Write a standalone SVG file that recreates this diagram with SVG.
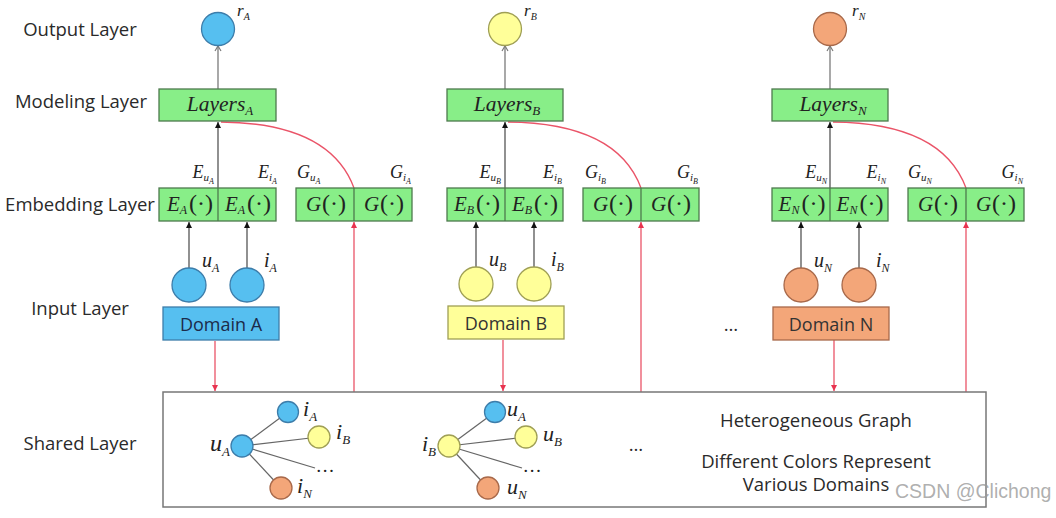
<svg xmlns="http://www.w3.org/2000/svg" width="1056" height="518" viewBox="0 0 1056 518">
<style>
.lbl{font-family:"Open Sans",sans-serif;font-size:18.5px;fill:#2a2a2a;text-anchor:middle}
.dom{font-family:"Open Sans",sans-serif;font-size:18px;text-anchor:middle}
.m{font-family:"Liberation Serif",serif;font-style:italic;fill:#222}
.cell{font-family:"Liberation Serif",serif;font-style:italic;fill:#222;font-size:21px;text-anchor:middle}
.up{font-style:normal;font-size:24px}
.box{fill:#88EE88;stroke:#4e7a4e;stroke-width:1.3}
.gray{stroke:#7a7a7a;stroke-width:1.3;fill:none}
.blk{stroke:#555;stroke-width:1.3;fill:none}
.red{stroke:#EA5468;stroke-width:1.3;fill:none}
.edge{stroke:#666;stroke-width:1.2}
.blue{fill:#56BFF0;stroke:#3D7DAA;stroke-width:1.3}
.yel{fill:#FFFF99;stroke:#9F9F55;stroke-width:1.3}
.org{fill:#F3A679;stroke:#A8694A;stroke-width:1.3}
</style>
<defs>
<marker id="aOpen" markerWidth="8" markerHeight="8" refX="6" refY="4" orient="auto" markerUnits="userSpaceOnUse"><path d="M1,1 L6,4 L1,7" fill="none" stroke="#7a7a7a" stroke-width="1.2"/></marker>
<marker id="aBlk" markerWidth="8" markerHeight="8" refX="6" refY="4" orient="auto" markerUnits="userSpaceOnUse"><path d="M0,1 L6,4 L0,7 Z" fill="#111"/></marker>
<marker id="aRed" markerWidth="8" markerHeight="8" refX="6" refY="4" orient="auto" markerUnits="userSpaceOnUse"><path d="M0,1 L6,4 L0,7 Z" fill="#E8334F"/></marker>
</defs>
<rect width="1056" height="518" fill="#ffffff"/>

<g id="layer-labels">
<text class="lbl" x="80" y="36">Output Layer</text>
<text class="lbl" x="81" y="108">Modeling Layer</text>
<text class="lbl" x="80" y="211">Embedding Layer</text>
<text class="lbl" x="80" y="315">Input Layer</text>
<text class="lbl" x="80" y="450">Shared Layer</text>
</g>

<g id="connectors">
<line class="gray" x1="218" y1="89" x2="218" y2="46" marker-end="url(#aOpen)"/>
<line class="blk" x1="218" y1="188" x2="218" y2="122" marker-end="url(#aBlk)"/>
<path class="red" d="M354,188 Q330,123 221,122"/>
<line class="blk" x1="189" y1="268" x2="189" y2="222" marker-end="url(#aBlk)"/>
<line class="blk" x1="247" y1="268" x2="247" y2="222" marker-end="url(#aBlk)"/>
<line class="red" x1="215" y1="341" x2="215" y2="391" marker-end="url(#aRed)"/>
<line class="red" x1="354" y1="392" x2="354" y2="222" marker-end="url(#aRed)"/>
<line class="gray" x1="505" y1="89" x2="505" y2="46" marker-end="url(#aOpen)"/>
<line class="blk" x1="505" y1="188" x2="505" y2="122" marker-end="url(#aBlk)"/>
<path class="red" d="M641,188 Q617,123 508,122"/>
<line class="blk" x1="476" y1="267" x2="476" y2="222" marker-end="url(#aBlk)"/>
<line class="blk" x1="534" y1="267" x2="534" y2="222" marker-end="url(#aBlk)"/>
<line class="red" x1="503" y1="340" x2="503" y2="391" marker-end="url(#aRed)"/>
<line class="red" x1="641" y1="392" x2="641" y2="222" marker-end="url(#aRed)"/>
<line class="gray" x1="830" y1="89" x2="830" y2="46" marker-end="url(#aOpen)"/>
<line class="blk" x1="830" y1="188" x2="830" y2="122" marker-end="url(#aBlk)"/>
<path class="red" d="M966,188 Q942,123 833,122"/>
<line class="blk" x1="801" y1="268" x2="801" y2="222" marker-end="url(#aBlk)"/>
<line class="blk" x1="859" y1="268" x2="859" y2="222" marker-end="url(#aBlk)"/>
<line class="red" x1="834" y1="340" x2="834" y2="391" marker-end="url(#aRed)"/>
<line class="red" x1="966" y1="392" x2="966" y2="222" marker-end="url(#aRed)"/>
</g>

<g id="outA"><circle class="blue" cx="218" cy="29" r="16.5"/><text class="m" x="237" y="16" font-size="17">r<tspan font-size="10" dy="4">A</tspan></text></g>
<g id="layersA"><rect class="box" x="159" y="89" width="117" height="32"/><text class="m" x="220" y="111" font-size="21.5" text-anchor="middle">Layers<tspan font-size="13" dy="4">A</tspan></text></g>
<g id="embA">
<rect class="box" x="159" y="188" width="117" height="33"/><line x1="218" y1="188" x2="218" y2="221" stroke="#4e7a4e" stroke-width="1.3"/>
<text class="cell" x="190" y="211">E<tspan font-size="12" dy="3">A</tspan><tspan class="up" dx="2" dy="-3">(·)</tspan></text>
<text class="cell" x="248" y="211">E<tspan font-size="12" dy="3">A</tspan><tspan class="up" dx="2" dy="-3">(·)</tspan></text>
<text class="m" x="214" y="178" font-size="18" text-anchor="end">E<tspan font-size="11" dy="3">u</tspan><tspan font-size="8" dy="3">A</tspan></text>
<text class="m" x="277" y="178" font-size="18" text-anchor="end">E<tspan font-size="11" dy="3">i</tspan><tspan font-size="8" dy="3">A</tspan></text>
</g>
<g id="gA">
<rect class="box" x="296" y="188" width="116" height="33"/><line x1="354" y1="188" x2="354" y2="221" stroke="#4e7a4e" stroke-width="1.3"/>
<text class="cell" x="326" y="211">G<tspan class="up" dx="1">(·)</tspan></text>
<text class="cell" x="384" y="211">G<tspan class="up" dx="1">(·)</tspan></text>
<text class="m" x="297" y="178" font-size="18">G<tspan font-size="11" dy="3">u</tspan><tspan font-size="8" dy="3">A</tspan></text>
<text class="m" x="411" y="178" font-size="18" text-anchor="end">G<tspan font-size="11" dy="3">i</tspan><tspan font-size="8" dy="3">A</tspan></text>
</g>
<g id="inA">
<circle class="blue" cx="189" cy="285" r="17"/><circle class="blue" cx="247" cy="285" r="17"/>
<text class="m" x="202" y="267" font-size="20">u<tspan font-size="12" dy="5">A</tspan></text>
<text class="m" x="264" y="267" font-size="20">i<tspan font-size="12" dy="5">A</tspan></text>
</g>
<g id="domainA"><rect class="blue" x="163" y="307" width="116" height="33"/><text class="dom" x="221" y="331" fill="#1c2b4a">Domain A</text></g>

<g id="outB"><circle class="yel" cx="505" cy="29" r="16.5"/><text class="m" x="524" y="16" font-size="17">r<tspan font-size="10" dy="4">B</tspan></text></g>
<g id="layersB"><rect class="box" x="447" y="89" width="116" height="32"/><text class="m" x="507" y="111" font-size="21.5" text-anchor="middle">Layers<tspan font-size="13" dy="4">B</tspan></text></g>
<g id="embB">
<rect class="box" x="447" y="188" width="116" height="33"/><line x1="505" y1="188" x2="505" y2="221" stroke="#4e7a4e" stroke-width="1.3"/>
<text class="cell" x="477" y="211">E<tspan font-size="12" dy="3">B</tspan><tspan class="up" dx="2" dy="-3">(·)</tspan></text>
<text class="cell" x="535" y="211">E<tspan font-size="12" dy="3">B</tspan><tspan class="up" dx="2" dy="-3">(·)</tspan></text>
<text class="m" x="501" y="178" font-size="18" text-anchor="end">E<tspan font-size="11" dy="3">u</tspan><tspan font-size="8" dy="3">B</tspan></text>
<text class="m" x="562" y="178" font-size="18" text-anchor="end">E<tspan font-size="11" dy="3">i</tspan><tspan font-size="8" dy="3">B</tspan></text>
</g>
<g id="gB">
<rect class="box" x="583" y="188" width="116" height="33"/><line x1="641" y1="188" x2="641" y2="221" stroke="#4e7a4e" stroke-width="1.3"/>
<text class="cell" x="613" y="211">G<tspan class="up" dx="1">(·)</tspan></text>
<text class="cell" x="671" y="211">G<tspan class="up" dx="1">(·)</tspan></text>
<text class="m" x="585" y="178" font-size="18">G<tspan font-size="11" dy="3">i</tspan><tspan font-size="8" dy="3">B</tspan></text>
<text class="m" x="698" y="178" font-size="18" text-anchor="end">G<tspan font-size="11" dy="3">i</tspan><tspan font-size="8" dy="3">B</tspan></text>
</g>
<g id="inB">
<circle class="yel" cx="476" cy="284" r="17"/><circle class="yel" cx="534" cy="284" r="17"/>
<text class="m" x="489" y="266" font-size="20">u<tspan font-size="12" dy="5">B</tspan></text>
<text class="m" x="551" y="266" font-size="20">i<tspan font-size="12" dy="5">B</tspan></text>
</g>
<g id="domainB"><rect class="yel" x="448" y="306" width="116" height="33"/><text class="dom" x="506" y="330" fill="#333">Domain B</text></g>

<g id="outN"><circle class="org" cx="830" cy="29" r="16.5"/><text class="m" x="852" y="16" font-size="17">r<tspan font-size="10" dy="4">N</tspan></text></g>
<g id="layersN"><rect class="box" x="772" y="89" width="116" height="32"/><text class="m" x="833" y="111" font-size="21.5" text-anchor="middle">Layers<tspan font-size="13" dy="4">N</tspan></text></g>
<g id="embN">
<rect class="box" x="772" y="188" width="116" height="33"/><line x1="830" y1="188" x2="830" y2="221" stroke="#4e7a4e" stroke-width="1.3"/>
<text class="cell" x="802" y="211">E<tspan font-size="12" dy="3">N</tspan><tspan class="up" dx="2" dy="-3">(·)</tspan></text>
<text class="cell" x="860" y="211">E<tspan font-size="12" dy="3">N</tspan><tspan class="up" dx="2" dy="-3">(·)</tspan></text>
<text class="m" x="827" y="178" font-size="18" text-anchor="end">E<tspan font-size="11" dy="3">u</tspan><tspan font-size="8" dy="3">N</tspan></text>
<text class="m" x="886" y="178" font-size="18" text-anchor="end">E<tspan font-size="11" dy="3">i</tspan><tspan font-size="8" dy="3">N</tspan></text>
</g>
<g id="gN">
<rect class="box" x="908" y="188" width="116" height="33"/><line x1="966" y1="188" x2="966" y2="221" stroke="#4e7a4e" stroke-width="1.3"/>
<text class="cell" x="938" y="211">G<tspan class="up" dx="1">(·)</tspan></text>
<text class="cell" x="996" y="211">G<tspan class="up" dx="1">(·)</tspan></text>
<text class="m" x="908" y="178" font-size="18">G<tspan font-size="11" dy="3">u</tspan><tspan font-size="8" dy="3">N</tspan></text>
<text class="m" x="1023" y="178" font-size="18" text-anchor="end">G<tspan font-size="11" dy="3">i</tspan><tspan font-size="8" dy="3">N</tspan></text>
</g>
<g id="inN">
<circle class="org" cx="801" cy="285" r="17"/><circle class="org" cx="859" cy="285" r="17"/>
<text class="m" x="814" y="267" font-size="20">u<tspan font-size="12" dy="5">N</tspan></text>
<text class="m" x="876" y="267" font-size="20">i<tspan font-size="12" dy="5">N</tspan></text>
</g>
<g id="domainN"><rect class="org" x="773" y="307" width="116" height="33"/><text class="dom" x="831" y="331" fill="#333">Domain N</text></g>
<g id="dotsInput"><text class="lbl" x="731" y="331">…</text></g>

<g id="shared">
<rect x="163" y="392" width="823" height="115" fill="#fff" stroke="#777" stroke-width="1.5"/>
<g id="graph1">
<line class="edge" x1="242" y1="446" x2="288" y2="412"/>
<line class="edge" x1="242" y1="446" x2="319" y2="437"/>
<line class="edge" x1="242" y1="446" x2="315" y2="468"/>
<line class="edge" x1="242" y1="446" x2="281" y2="488"/>
<circle class="blue" cx="242" cy="446" r="11"/>
<circle class="blue" cx="288" cy="412" r="10.5"/>
<circle class="yel" cx="319" cy="437" r="11"/>
<circle class="org" cx="281" cy="488" r="11"/>
<text class="m" x="230" y="451" font-size="24" text-anchor="end">u<tspan font-size="13" dy="5">A</tspan></text>
<text class="m" x="303" y="416" font-size="22">i<tspan font-size="13" dy="5">A</tspan></text>
<text class="m" x="336" y="439" font-size="22">i<tspan font-size="13" dy="5">B</tspan></text>
<text class="m" x="297" y="493" font-size="22">i<tspan font-size="13" dy="5">N</tspan></text>
<text class="m" x="317" y="472" font-size="19" font-style="normal">…</text>
</g>
<g id="graph2">
<line class="edge" x1="449" y1="446" x2="495" y2="412"/>
<line class="edge" x1="449" y1="446" x2="526" y2="437"/>
<line class="edge" x1="449" y1="446" x2="522" y2="468"/>
<line class="edge" x1="449" y1="446" x2="488" y2="488"/>
<circle class="yel" cx="449" cy="446" r="11"/>
<circle class="blue" cx="495" cy="412" r="10.5"/>
<circle class="yel" cx="526" cy="437" r="11"/>
<circle class="org" cx="488" cy="488" r="11"/>
<text class="m" x="436" y="451" font-size="22" text-anchor="end">i<tspan font-size="13" dy="5">B</tspan></text>
<text class="m" x="507" y="416" font-size="22">u<tspan font-size="13" dy="5">A</tspan></text>
<text class="m" x="543" y="441" font-size="22">u<tspan font-size="13" dy="5">B</tspan></text>
<text class="m" x="507" y="494" font-size="22">u<tspan font-size="13" dy="5">N</tspan></text>
<text class="m" x="524" y="472" font-size="19" font-style="normal">…</text>
</g>
<text class="lbl" x="636" y="451">…</text>
<text class="lbl" x="816" y="427">Heterogeneous Graph</text>
<text class="lbl" x="816" y="468" font-size="15.5">Different Colors Represent</text>
<text class="lbl" x="816" y="491" font-size="15.5">Various Domains</text>
</g>
<g id="watermark"><text x="895" y="498" font-family="Liberation Sans, sans-serif" font-size="19.5" fill="#9a9a9a" fill-opacity="0.8">CSDN @Clichong</text></g>
</svg>
